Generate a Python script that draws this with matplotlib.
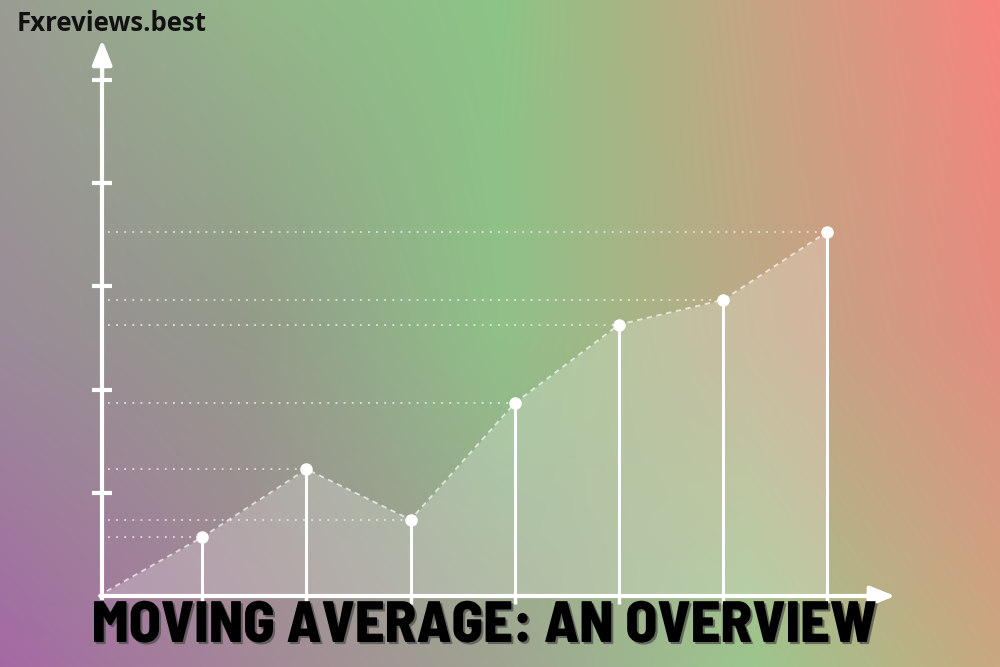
import matplotlib
matplotlib.use('Agg')
import matplotlib.pyplot as plt
import matplotlib.patheffects as pe
import numpy as np

# Data
x_vals = [0, 1, 2, 3, 4, 5, 6, 7]
y_vals = [0, 0.57, 1.23, 0.74, 1.87, 2.63, 2.87, 3.53]
y_ticks = [1, 2, 3, 4, 5]
title = 'MOVING AVERAGE: AN OVERVIEW'
brand = 'Fxreviews.best'

# background gradient colours (rows top->bottom, cols left->right)
bg_colors = [
    ['#9a9c92', '#94b68a', '#8cc486', '#c4a682', '#f8847e'],
    ['#9a8c98', '#949a8a', '#90c088', '#bcaa86', '#e28e80'],
    ['#a468a4', '#a48898', '#a0a492', '#9cc68e', '#c8a880'],
]

W, H = 1000, 667
fig = plt.figure(figsize=(W / 100, H / 100), dpi=100)

# background
bg = fig.add_axes([0, 0, 1, 1])
rgb = np.array([[matplotlib.colors.to_rgb(c) for c in row] for row in bg_colors])
nr, nc = rgb.shape[:2]
dx, dy = W / (nc - 1), H / (nr - 1)
bg.imshow(rgb, extent=(-dx / 2, W + dx / 2, -dy / 2, H + dy / 2),
          interpolation='bilinear', aspect='auto', origin='upper')
bg.set_xlim(0, W)
bg.set_ylim(0, H)
bg.axis('off')

# chart axes: origin near pixel (98, 596)
ax = fig.add_axes([0, 0, 1, 1])
ax.set_facecolor('none')
ox, oy, ux, uy = 98, 71, 104.2, 103.2
ax.set_xlim(-ox / ux, (W - ox) / ux)
ax.set_ylim(-oy / uy, (H - oy) / uy)

x0 = 0.04  # where the y axis sits
for s in ['top', 'right']:
    ax.spines[s].set_visible(False)
ax.spines['left'].set_position(('data', x0))
ax.spines['bottom'].set_position(('data', 0))
for s in ['left', 'bottom']:
    ax.spines[s].set_color('white')
    ax.spines[s].set_linewidth(3)
ax.spines['left'].set_bounds(-0.015, 5.2)
ax.spines['bottom'].set_bounds(x0 - 0.015, 7.5)

ax.set_xticks(x_vals[1:])
ax.set_yticks(y_ticks)
ax.tick_params(axis='y', direction='inout', length=14, width=3, colors='white', labelleft=False)
ax.tick_params(axis='x', direction='out', length=6, width=2.5, colors='white', labelbottom=False)

arrow = dict(arrowstyle='-|>,head_length=0.75,head_width=0.3', color='white', lw=3,
             mutation_scale=20, shrinkA=0, shrinkB=0)
ax.annotate('', xy=(x0, 5.39), xytext=(x0, 5.0), arrowprops=arrow)
ax.annotate('', xy=(7.65, 0), xytext=(7.3, 0), arrowprops=arrow)

# area + dashed line
ax.fill_between(x_vals, y_vals, 0, color='white', alpha=0.22, lw=0)
ax.plot(x_vals, y_vals, color='white', lw=1.3, alpha=0.7, dashes=(3, 2.5))

# guides, stems, points
ax.hlines(y_vals[1:], 0.1, x_vals[1:], colors='white', lw=1.3, alpha=0.7, linestyles=(0, (1, 3.5)))
ax.vlines(x_vals[1:], 0, y_vals[1:], colors='white', lw=2.2)
ax.plot(x_vals[1:], y_vals[1:], 'o', color='white', ms=8, mec='white')

# text
fig.text(17 / W, (H - 31) / H, brand, fontsize=18.5, fontweight='bold',
         family=['Open Sans', 'DejaVu Sans'], color='#111111')
fig.text(484.5 / W, (H - 642) / H, title, fontsize=42, fontweight='heavy', ha='center', va='baseline',
         family=['Barlow Semi Condensed', 'DejaVu Sans'], color='black',
         path_effects=[pe.withSimplePatchShadow(offset=(1.5, -1.5), shadow_rgbFace='#4a4a4a', alpha=0.7)])

fig.savefig('out.png', dpi=100)
